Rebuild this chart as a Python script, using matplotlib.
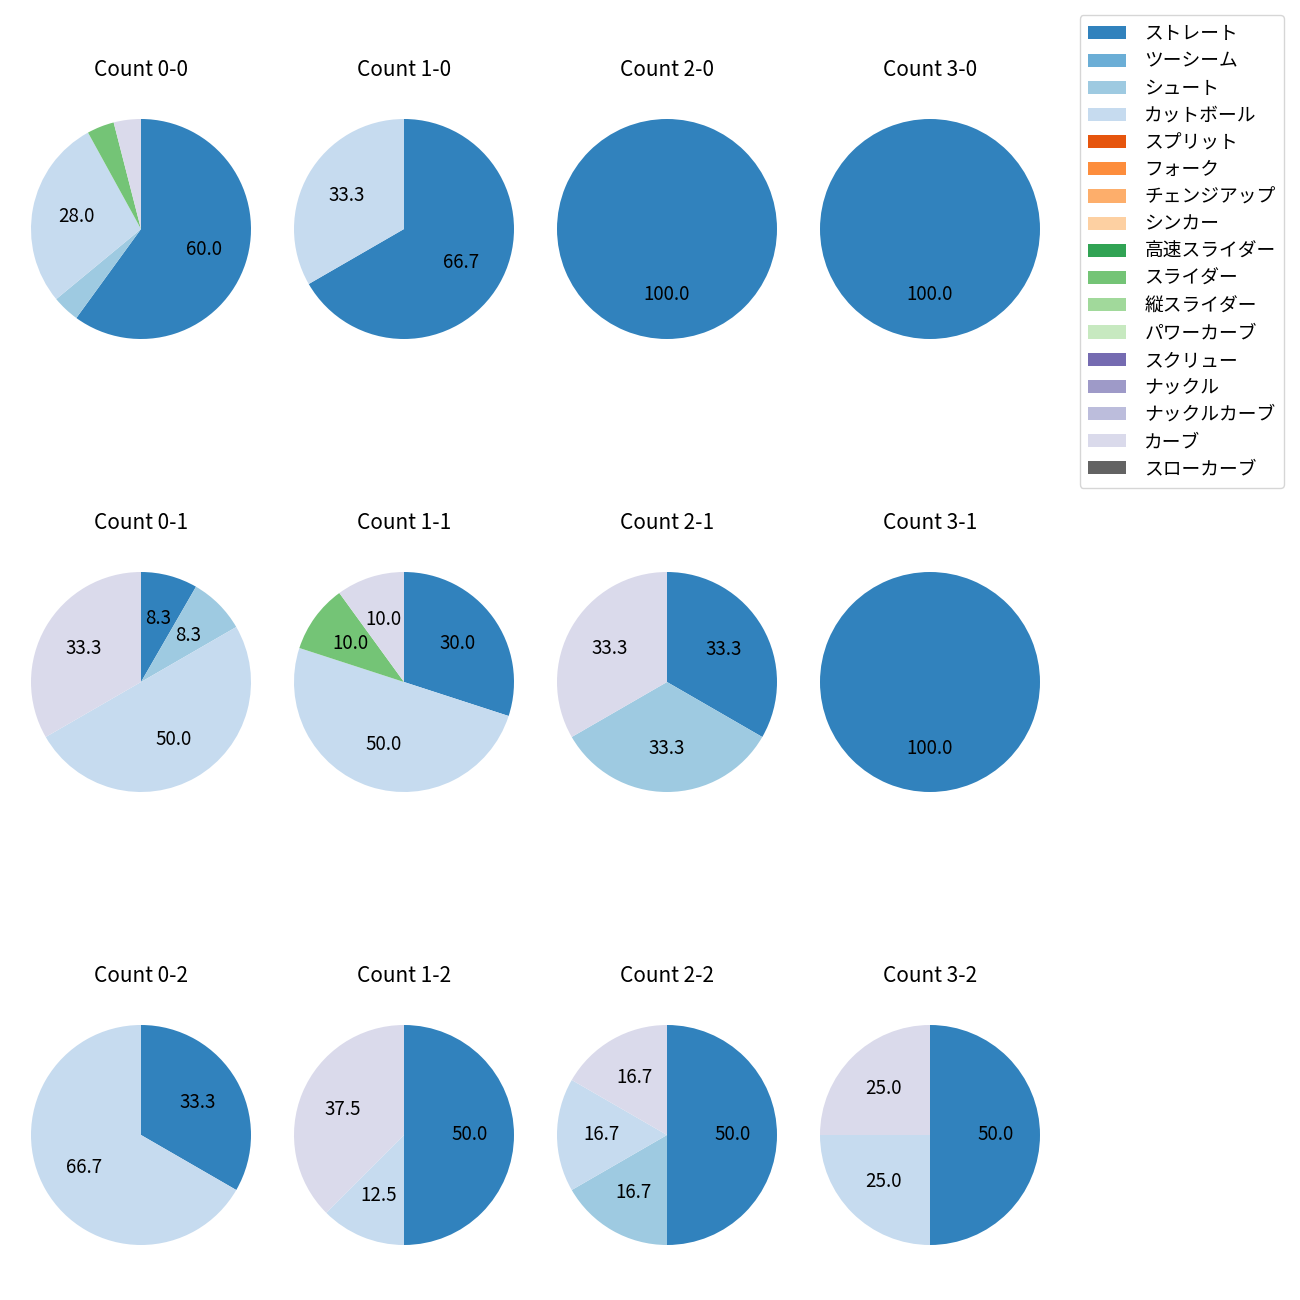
import matplotlib
matplotlib.use("Agg")
from matplotlib import pyplot as plt
from matplotlib.patches import Patch

plt.rcParams['font.family'] = ['Noto Sans CJK JP', 'DejaVu Sans']

# pitch types in legend order, colours from tab20c
pitch_types = ['ストレート', 'ツーシーム', 'シュート', 'カットボール', 'スプリット', 'フォーク',
               'チェンジアップ', 'シンカー', '高速スライダー', 'スライダー', '縦スライダー',
               'パワーカーブ', 'スクリュー', 'ナックル', 'ナックルカーブ', 'カーブ', 'スローカーブ']
cmap = plt.get_cmap('tab20c')
colors = {p: cmap(i) for i, p in enumerate(pitch_types)}

# counts of pitches per ball-strike count
counts_0_0 = {'ストレート': 15, 'シュート': 1, 'カットボール': 7, 'スライダー': 1, 'カーブ': 1}
counts_1_0 = {'ストレート': 2, 'カットボール': 1}
counts_2_0 = {'ストレート': 1}
counts_3_0 = {'ストレート': 1}
counts_0_1 = {'ストレート': 1, 'シュート': 1, 'カットボール': 6, 'カーブ': 4}
counts_1_1 = {'ストレート': 3, 'カットボール': 5, 'スライダー': 1, 'カーブ': 1}
counts_2_1 = {'ストレート': 1, 'シュート': 1, 'カーブ': 1}
counts_3_1 = {'ストレート': 1}
counts_0_2 = {'ストレート': 1, 'カットボール': 2}
counts_1_2 = {'ストレート': 4, 'カットボール': 1, 'カーブ': 3}
counts_2_2 = {'ストレート': 3, 'シュート': 1, 'カットボール': 1, 'カーブ': 1}
counts_3_2 = {'ストレート': 2, 'カットボール': 1, 'カーブ': 1}

grid = [
    [('Count 0-0', counts_0_0), ('Count 1-0', counts_1_0), ('Count 2-0', counts_2_0), ('Count 3-0', counts_3_0)],
    [('Count 0-1', counts_0_1), ('Count 1-1', counts_1_1), ('Count 2-1', counts_2_1), ('Count 3-1', counts_3_1)],
    [('Count 0-2', counts_0_2), ('Count 1-2', counts_1_2), ('Count 2-2', counts_2_2), ('Count 3-2', counts_3_2)],
]

fig = plt.figure(figsize=(13, 13), dpi=100)

W = 1300.0
size = 275.0
col_x = [141, 404, 667, 930]
row_y = [229, 682, 1135]

for r, row in enumerate(grid):
    for c, (title, data) in enumerate(row):
        cx, cy = col_x[c], row_y[r]
        ax = fig.add_axes([(cx - size / 2) / W, 1 - (cy + size / 2) / W, size / W, size / W])
        labels = list(data.keys())
        vals = list(data.values())
        ax.pie(vals, colors=[colors[l] for l in labels], startangle=90, counterclock=False,
               autopct=lambda p: f'{p:.1f}' if p >= 5 else '',
               textprops={'fontsize': 13.5})
        ax.set_title(title, fontsize=15, pad=11)

handles = [Patch(facecolor=colors[p], label=p) for p in pitch_types]
fig.legend(handles=handles, loc='upper right', bbox_to_anchor=(1284 / W, 1 - 15 / W),
           fontsize=13.5, labelspacing=0.33, handletextpad=1.0, borderpad=0.45,
           borderaxespad=0)

fig.savefig('out.png', dpi=100)
